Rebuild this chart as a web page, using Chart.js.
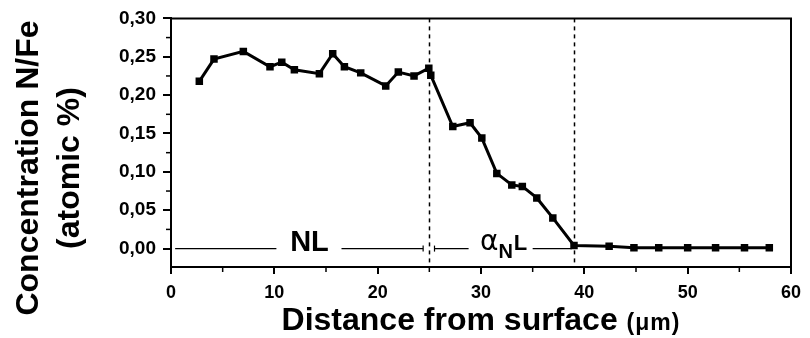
<!DOCTYPE html>
<html>
<head>
<meta charset="utf-8">
<script src="https://cdn.jsdelivr.net/npm/chart.js@4.4.0/dist/chart.umd.min.js"></script>
<style>
  html, body { margin: 0; padding: 0; background: #fff; }
  #wrap { width: 810px; height: 338px; }
</style>
</head>
<body>
<div id="wrap"><canvas id="profile"></canvas></div>
<script>
// N/Fe profile
const distance = [2.74, 4.16, 7.0, 9.58, 10.72, 11.94, 14.36, 15.65, 16.78, 18.36, 20.78, 22.0, 23.52, 24.95, 25.14,
                  27.27, 28.94, 30.08, 31.53, 32.98, 34.0, 35.4, 36.95, 39.0, 42.4, 44.8, 47.2, 50.0, 52.7, 55.5, 57.9];
const concentration = [0.218, 0.247, 0.257, 0.237, 0.243, 0.233, 0.228, 0.254, 0.237, 0.229, 0.212, 0.230, 0.225, 0.235, 0.226,
                       0.159, 0.164, 0.144, 0.098, 0.083, 0.081, 0.066, 0.040, 0.004, 0.003, 0.001, 0.001, 0.001, 0.001, 0.001, 0.001];
const xTicks = [0, 10, 20, 30, 40, 50, 60];
const yTicks = [0, 0.05, 0.10, 0.15, 0.20, 0.25, 0.30];
const layerBounds = [25, 39];

const FONT = '"Liberation Sans", Arial, sans-serif';

// zone markers along y = 0 (data units)
const zoneSegments = [[0.4, 10.2], [16.5, 24.4], [25.5, 28.8], [35.0, 38.8]];
const zoneCaps = [24.4, 25.5];

const decorPlugin = {
    id: 'decor',
    beforeDatasetsDraw(chart) {
        const { ctx, chartArea: a, scales: { x, y } } = chart;
        ctx.save();
        ctx.strokeStyle = '#000';

        // layer boundaries
        ctx.lineWidth = 1.5;
        ctx.setLineDash([4, 4]);
        layerBounds.forEach(b => {
            const px = Math.round(x.getPixelForValue(b)) + 0.5;
            ctx.beginPath();
            ctx.moveTo(px, a.top);
            ctx.lineTo(px, a.bottom);
            ctx.stroke();
        });
        ctx.setLineDash([]);

        // zone lines
        const y0 = y.getPixelForValue(0);
        ctx.lineWidth = 1.2;
        zoneSegments.forEach(s => {
            ctx.beginPath();
            ctx.moveTo(x.getPixelForValue(s[0]), y0);
            ctx.lineTo(x.getPixelForValue(s[1]), y0);
            ctx.stroke();
        });
        zoneCaps.forEach(c => {
            const px = x.getPixelForValue(c);
            ctx.beginPath();
            ctx.moveTo(px, y0 - 3);
            ctx.lineTo(px, y0 + 3);
            ctx.stroke();
        });

        // zone labels
        ctx.fillStyle = '#000';
        ctx.textBaseline = 'alphabetic';
        ctx.textAlign = 'center';
        ctx.font = 'bold 29px ' + FONT;
        ctx.fillText('NL', x.getPixelForValue(13.4), y0 + 2.5);

        ctx.textAlign = 'left';
        let px = x.getPixelForValue(29.9);
        ctx.font = '28px "DejaVu Sans", sans-serif';
        ctx.fillText('α', px, y0 + 1.5);
        px += ctx.measureText('α').width;
        ctx.font = 'bold 20px ' + FONT;
        ctx.fillText('N', px, y0 + 9);
        px += ctx.measureText('N').width + 1;
        ctx.font = 'bold 22px ' + FONT;
        ctx.fillText('L', px, y0 + 1.5);
        ctx.restore();
    },
    afterDraw(chart) {
        const { ctx, chartArea: a, scales: { x, y } } = chart;
        ctx.save();
        ctx.strokeStyle = '#000';
        ctx.lineWidth = 2;

        // top and right frame
        ctx.beginPath();
        ctx.moveTo(a.left, a.top);
        ctx.lineTo(a.right, a.top);
        ctx.lineTo(a.right, a.bottom);
        ctx.stroke();

        // minor ticks
        ctx.lineWidth = 1.5;
        for (let v = 5; v < 60; v += 10) {
            const px = x.getPixelForValue(v);
            ctx.beginPath();
            ctx.moveTo(px, a.bottom);
            ctx.lineTo(px, a.bottom + 5);
            ctx.stroke();
        }
        for (let v = 0.025; v < 0.3; v += 0.05) {
            const py = y.getPixelForValue(v);
            ctx.beginPath();
            ctx.moveTo(a.left, py);
            ctx.lineTo(a.left - 5, py);
            ctx.stroke();
        }

        // axis titles
        ctx.fillStyle = '#000';
        ctx.textBaseline = 'alphabetic';
        const main = 'Distance from surface ';
        const unit = '(μm)';
        ctx.font = 'bold 32px ' + FONT;
        const wMain = ctx.measureText(main).width;
        ctx.font = 'bold 23px ' + FONT;
        ctx.letterSpacing = '1px';
        const wUnit = ctx.measureText(unit).width;
        let tx = (a.left + a.right) / 2 - (wMain + wUnit) / 2;
        ctx.letterSpacing = '0px';
        ctx.font = 'bold 32px ' + FONT;
        ctx.textAlign = 'left';
        ctx.fillText(main, tx, 330);
        ctx.font = 'bold 23px ' + FONT;
        ctx.letterSpacing = '1px';
        ctx.fillText(unit, tx + wMain, 330);
        ctx.letterSpacing = '0px';

        ctx.translate(0, 168);
        ctx.rotate(-Math.PI / 2);
        ctx.textAlign = 'center';
        ctx.font = 'bold 32px ' + FONT;
        ctx.fillText('Concentration N/Fe', 0, 38);
        ctx.fillText('(atomic %)', 0, 79);
        ctx.restore();
    }
};

const points = distance.map((d, i) => ({ x: d, y: concentration[i] }));

new Chart(document.getElementById('profile'), {
    type: 'line',
    data: {
        datasets: [{
            data: points,
            borderColor: '#000',
            backgroundColor: '#000',
            borderWidth: 3,
            pointStyle: 'rect',
            pointRadius: 5.3,
            pointBorderWidth: 0,
            tension: 0
        }]
    },
    options: {
        responsive: true,
        maintainAspectRatio: false,
        animation: false,
        layout: { padding: { left: 0, top: 18, right: 19, bottom: 0 } },
        plugins: { legend: { display: false }, tooltip: { enabled: false } },
        scales: {
            x: {
                type: 'linear',
                min: 0,
                max: 60,
                afterFit: s => { s.height = 71; },
                afterBuildTicks: s => { s.ticks = xTicks.map(v => ({ value: v })); },
                grid: { display: true, drawOnChartArea: false, drawTicks: true, tickLength: 7, color: '#000', lineWidth: 2 },
                border: { display: true, color: '#000', width: 2 },
                ticks: { color: '#000', font: { family: FONT, size: 18, weight: 'bold' }, padding: 8, maxRotation: 0 }
            },
            y: {
                type: 'linear',
                min: -0.024,
                max: 0.30,
                afterFit: s => { s.width = 171; },
                afterBuildTicks: s => { s.ticks = yTicks.map(v => ({ value: v })); },
                grid: { display: true, drawOnChartArea: false, drawTicks: true, tickLength: 8, color: '#000', lineWidth: 2 },
                border: { display: true, color: '#000', width: 2 },
                ticks: {
                    color: '#000',
                    font: { family: FONT, size: 19, weight: 'bold' },
                    padding: 7,
                    callback: v => v.toFixed(2).replace('.', ',')
                }
            }
        }
    },
    plugins: [decorPlugin]
});
</script>
</body>
</html>
